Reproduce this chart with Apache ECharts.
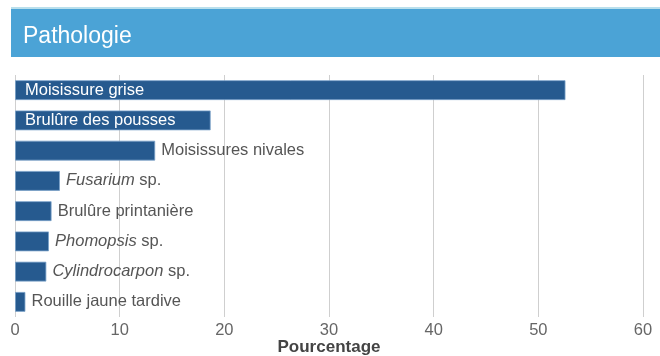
<!DOCTYPE html>
<html>
<head>
<meta charset="utf-8">
<script src="https://cdn.jsdelivr.net/npm/echarts@6/dist/echarts.min.js"></script>
<style>
  html, body { margin: 0; padding: 0; background: #fff; }
  #chart { width: 660px; height: 356px; }
</style>
</head>
<body>
<div id="chart"></div>
<script>
// Pathologies recensées (pourcentage)
const categories = [
  'Moisissure grise',
  'Brulûre des pousses',
  'Moisissures nivales',
  'Fusarium sp.',
  'Brulûre printanière',
  'Phomopsis sp.',
  'Cylindrocarpon sp.',
  'Rouille jaune tardive'
];
const values = [52.6, 18.7, 13.4, 4.3, 3.5, 3.25, 3.0, 1.0];
// Noms de genre écrits en italique
const italicGenera = ['Fusarium', 'Phomopsis', 'Cylindrocarpon'];
// Étiquettes placées à l'intérieur de la barre
const insideLabels = ['Moisissure grise', 'Brulûre des pousses'];
const xTicks = [0, 10, 20, 30, 40, 50, 60];

const FONT = '"Liberation Sans", Arial, Helvetica, sans-serif';

function labelText(name) {
  for (const g of italicGenera) {
    if (name.startsWith(g)) return '{i|' + g + '}{n|' + name.slice(g.length) + '}';
  }
  return '{n|' + name + '}';
}

const data = categories.map((name, i) => {
  const inside = insideLabels.includes(name);
  const color = inside ? '#ffffff' : '#555555';
  return {
    value: values[i],
    name: name,
    label: {
      show: true,
      position: inside ? 'insideLeft' : 'right',
      distance: inside ? 10 : 6,
      formatter: labelText(name),
      rich: {
        n: { fontFamily: FONT, fontSize: 16.5, color: color },
        i: { fontFamily: FONT, fontSize: 16.5, fontStyle: 'italic', color: color }
      }
    }
  };
});

const chart = echarts.init(document.getElementById('chart'), null, { renderer: 'canvas' });
chart.setOption({
  animation: false,
  backgroundColor: '#ffffff',
  graphic: [
    { type: 'rect', shape: { x: 11, y: 7, width: 649, height: 2 }, style: { fill: '#b9dfec' }, silent: true },
    { type: 'rect', shape: { x: 11, y: 9, width: 649, height: 48 }, style: { fill: '#4ba3d6' }, silent: true },
    {
      type: 'text', left: 23, top: 25,
      style: { text: 'Pathologie', fill: '#ffffff', font: '23px ' + FONT }
    }
  ],
  grid: { left: 15, right: 17, top: 75, bottom: 39, containLabel: false, outerBoundsMode: 'none' },
  xAxis: {
    type: 'value',
    min: xTicks[0],
    max: xTicks[xTicks.length - 1],
    interval: 10,
    name: 'Pourcentage',
    nameLocation: 'middle',
    nameGap: 22,
    nameMoveOverlap: false,
    nameTextStyle: { fontFamily: FONT, fontSize: 17, fontWeight: 'bold', color: '#444444' },
    axisLine: { show: false },
    axisTick: { show: false },
    axisLabel: { fontFamily: FONT, fontSize: 16.5, color: '#666666', margin: 5 },
    splitLine: { show: true, lineStyle: { color: '#cfcfcf', width: 1 } }
  },
  yAxis: {
    type: 'category',
    data: categories,
    inverse: true,
    axisLine: { show: false },
    axisTick: { show: false },
    axisLabel: { show: false },
    splitLine: { show: false }
  },
  series: [{
    type: 'bar',
    data: data,
    barWidth: 20,
    itemStyle: { color: '#265a8f', borderColor: 'rgba(120,160,200,0.8)', borderWidth: 1 }
  }]
});
</script>
</body>
</html>
